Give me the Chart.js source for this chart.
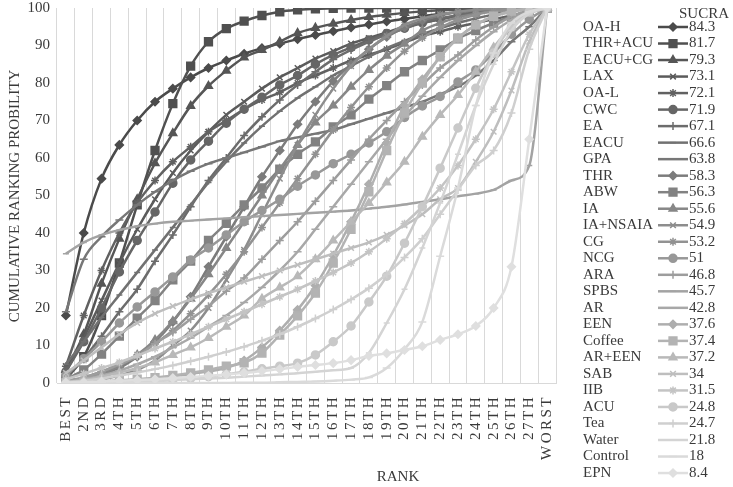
<!DOCTYPE html>
<html>
<head>
<meta charset="utf-8">
<script src="https://cdn.jsdelivr.net/npm/chart.js@4.4.0/dist/chart.umd.min.js"></script>
<style>
  html, body { margin: 0; padding: 0; background: #fff; }
</style>
</head>
<body>
<canvas id="myChart" width="733" height="487"></canvas>
<script>
//Data
const ranks = ["BEST", "2ND", "3RD", "4TH", "5TH", "6TH", "7TH", "8TH", "9TH", "10TH",
  "11TH", "12TH", "13TH", "14TH", "15TH", "16TH", "17TH", "18TH", "19TH", "20TH",
  "21TH", "22TH", "23TH", "24TH", "25TH", "26TH", "27TH", "WORST"];
const treatments = ["OA-H", "THR+ACU", "EACU+CG", "LAX", "OA-L", "CWC", "EA", "EACU", "GPA",
  "THR", "ABW", "IA", "IA+NSAIA", "CG", "NCG", "ARA", "SPBS", "AR", "EEN", "Coffee",
  "AR+EEN", "SAB", "IIB", "ACU", "Tea", "Water", "Control", "EPN"];
const sucra = ["84.3", "81.7", "79.3", "73.1", "72.1", "71.9", "67.1", "66.6", "63.8",
  "58.3", "56.3", "55.6", "54.9", "53.2", "51", "46.8", "45.7", "42.8", "37.6", "37.4",
  "37.2", "34", "31.5", "24.8", "24.7", "21.8", "18", "8.4"];
const yTicks = [0, 10, 20, 30, 40, 50, 60, 70, 80, 90, 100];

const oaH = [18, 40, 54.5, 63.5, 70, 75, 78.5, 81.5, 84, 86, 87.8, 89.3, 90.5, 91.7, 92.8, 93.8, 94.8, 95.6, 96.4, 97.1, 97.8, 98.4, 98.9, 99.3, 99.6, 99.8, 99.9, 100];
const thrAcu = [1, 7, 18, 32, 47.5, 62, 74.5, 84.5, 91, 94.5, 96.5, 98, 99, 99.5, 99.8, 99.9, 100, 100, 100, 100, 100, 100, 100, 100, 100, 100, 100, 100];
const eacuCg = [3.5, 13, 26.5, 38.5, 49, 58.6, 66.6, 73.9, 79.2, 83.3, 86.8, 88.8, 91, 93.3, 94.7, 95.8, 96.8, 97.6, 98.2, 98.7, 99.1, 99.4, 99.6, 99.8, 99.9, 100, 100, 100];
const lax = [3, 12, 22, 32, 41, 49, 56, 62, 67, 71.5, 75, 78.5, 81.5, 84, 86.5, 88.5, 90.5, 92, 93.5, 95, 96, 97, 98, 98.8, 99.4, 99.8, 100, 100];
const oaL = [4.5, 18, 30, 40, 48, 54, 59, 63, 67, 70, 73, 75.5, 77.5, 80, 82, 84, 86, 87.5, 89, 90.8, 92.5, 93.7, 95, 96, 97, 98, 99, 100];
const cwc = [3, 11, 20, 29.6, 38, 45.6, 53.3, 59.5, 64.5, 69.3, 73, 76.2, 79.5, 82, 85, 87.5, 89.5, 91.5, 93.2, 94.6, 96, 97, 98, 98.7, 99.3, 99.7, 99.9, 100];
const ea = [1.5, 6.5, 12.5, 19, 25, 32.5, 39.5, 47, 54, 60, 66, 71, 75.5, 79.5, 83, 86.3, 88.8, 91, 92.9, 94.5, 96.3, 97.3, 98.1, 98.8, 99.3, 99.7, 99.9, 100];
const eacu = [5, 11, 17.5, 23.5, 29.5, 35.5, 41.5, 47.5, 53.5, 59, 64, 68.5, 72.5, 76, 79, 82, 84.5, 87, 89.3, 91.2, 93, 94.6, 96, 97.2, 98.3, 99.2, 99.8, 100];
const gpa = [19, 33, 39, 43.5, 47.5, 51, 54, 56.5, 58.5, 60, 61.5, 63, 64.5, 65.5, 66.5, 67.5, 69, 70.5, 72, 73.5, 75, 77, 79, 82, 86, 91, 95, 100];
const thr = [0.3, 1, 2.2, 4, 7, 11, 16.3, 23, 31, 39, 47, 55, 62, 69, 75, 80.5, 85, 89, 92.3, 94.8, 96.7, 98, 98.9, 99.4, 99.7, 99.9, 100, 100];
const abw = [1, 3.5, 7.7, 12.5, 17.3, 22, 27.5, 32.5, 38, 42.6, 47.5, 52, 57, 61, 64.3, 68.3, 71.5, 75.7, 79.3, 83, 86, 88.8, 91.8, 94, 96, 97.8, 99.2, 100];
const ia = [0.5, 1.2, 2.5, 4.5, 7.5, 11.5, 16.5, 22.5, 29, 36, 43, 50, 57, 63.5, 69.5, 74, 79, 83.5, 87.3, 90.5, 94, 96, 97.5, 98.5, 99.2, 99.6, 99.9, 100];
const iaNsaia = [0.2, 0.5, 1, 2, 3.5, 6, 10, 14, 20, 27.5, 35.5, 45, 54.5, 63.5, 71.5, 78.5, 84.5, 89, 92.5, 95.5, 97.2, 98.3, 99, 99.5, 99.8, 99.9, 100, 100];
const cg = [0.5, 1.5, 3, 5, 7.5, 10.5, 14, 18.5, 23.5, 29, 35, 41.5, 48, 54.5, 61, 67.5, 73.5, 79, 84, 88.5, 92, 94.8, 96.8, 98.2, 99.1, 99.6, 99.9, 100];
const ncg = [2, 6.5, 11, 16, 20.3, 24.3, 28.3, 32.8, 36, 39.5, 43, 46, 49, 52.5, 55.5, 58.5, 61, 64, 67, 70.8, 73.9, 76.4, 80.3, 83.5, 88, 93, 97, 100];
const ara = [0.5, 1.5, 3, 5, 7, 10.5, 13.5, 17, 20.5, 24.5, 28, 33, 38, 43, 48.5, 54, 59.5, 65, 70, 75, 79.5, 84, 87.5, 91.5, 95, 97.7, 99.4, 100];
const spbs = [34.5, 37.5, 39.5, 40.8, 41.8, 42.5, 43, 43.3, 43.6, 43.9, 44.2, 44.5, 44.8, 45.1, 45.4, 45.7, 46, 46.5, 47, 47.6, 48.3, 49, 49.8, 50.5, 51.5, 54, 58, 100];
const ar = [0.3, 1, 2, 3.3, 5, 7, 9.5, 12, 15, 18, 21.5, 25.5, 30, 35, 41, 47, 53, 59, 65, 71, 76.5, 81.5, 86, 90, 93.7, 96.8, 99, 100];
const een = [0.1, 0.2, 0.4, 0.6, 0.9, 1.3, 1.8, 2.4, 3.1, 4, 6, 9.5, 14, 19.5, 26, 34, 43, 53, 64, 74, 81, 87, 92, 95.5, 97.7, 99, 99.7, 100];
const coffee = [0.1, 0.2, 0.4, 0.7, 1, 1.4, 2, 2.7, 3.5, 4.5, 5.4, 8, 12.8, 17.9, 24, 32, 41, 51, 62, 72, 80, 87, 92, 95.5, 97.8, 99.2, 99.8, 100];
const arEen = [0.2, 0.8, 1.7, 2.8, 4, 5.5, 7.5, 9.5, 12, 15, 18, 22.5, 25.5, 28.5, 33, 38, 43, 48, 53.5, 59, 65.7, 71.5, 76.8, 83, 89.5, 95, 98.5, 100];
const sab = [2.7, 6, 9.5, 13, 16, 18.5, 20.5, 22.3, 24, 25.5, 27, 28.5, 30, 31.5, 33, 34.5, 36, 37.5, 39.5, 42, 45, 49, 52, 59, 67, 78, 91, 100];
const iib = [1, 2.5, 4, 5.5, 7.3, 9.2, 11, 13, 15, 17, 19, 21, 23, 25, 27.2, 29.5, 32, 35, 38.5, 42.5, 47, 52, 58, 65, 73, 83, 93, 100];
const acu = [0, 0, 0.1, 0.2, 0.3, 0.5, 0.8, 1.2, 1.7, 2.3, 3, 3.8, 4.5, 5.3, 7.5, 11, 15.2, 21.6, 28.5, 37.3, 47, 57.3, 68, 78.6, 88, 95, 99, 100];
const tea = [0.2, 0.6, 1.2, 2, 2.8, 3.7, 4.7, 5.8, 7, 8.3, 9.7, 11.3, 13, 15, 17.2, 19.6, 22.3, 25.3, 29, 33.5, 38.5, 45, 51.5, 58, 62, 72, 89, 100];
const water = [0.1, 0.2, 0.3, 0.4, 0.5, 0.6, 0.8, 1, 1.2, 1.4, 1.7, 2, 2.3, 2.6, 3, 3.4, 4, 8, 16, 25, 36, 48, 61, 74, 85, 94, 98.5, 100];
const control = [0, 0, 0, 0, 0, 0, 0, 0, 0, 0, 0.1, 0.1, 0.2, 0.3, 0.4, 0.6, 0.9, 1.5, 4, 9, 16.3, 33.8, 52, 74, 88, 96, 99, 100];
const epn = [0.1, 0.2, 0.4, 0.6, 0.8, 1, 1.3, 1.6, 1.9, 2.3, 2.7, 3.2, 3.7, 4.3, 4.8, 5.3, 6.1, 7.2, 7.9, 8.8, 9.8, 11.5, 13, 15.2, 20, 31, 65, 100];

const seriesValues = [oaH, thrAcu, eacuCg, lax, oaL, cwc, ea, eacu, gpa, thr, abw, ia, iaNsaia,
  cg, ncg, ara, spbs, ar, een, coffee, arEen, sab, iib, acu, tea, water, control, epn];

//Styles
const grays = ["#4b4b4b", "#505050", "#565656", "#5b5b5b", "#616161", "#666666", "#6c6c6c",
  "#717171", "#777777", "#7c7c7c", "#828282", "#878787", "#8d8d8d", "#929292", "#989898",
  "#9d9d9d", "#a3a3a3", "#a8a8a8", "#aeaeae", "#b3b3b3", "#b9b9b9", "#bebebe", "#c4c4c4",
  "#c9c9c9", "#cfcfcf", "#d4d4d4", "#dadada", "#dfdfdf"];
const markers = ["rectRot", "rect", "triangle", "crossRot", "star", "circle", "cross", "line", "line"];
const markerSizes = [4, 5.5, 4.5, 4, 4, 4, 4, 3, 4];
const textColor = "#3a3a3a";
const serif = "'Liberation Serif', 'Times New Roman', serif";

var ctx = document.querySelector("#myChart").getContext("2d");

let datasets = seriesValues.map(function (values, i) {
  return {
    label: treatments[i],
    data: values,
    borderColor: grays[i],
    backgroundColor: grays[i],
    borderWidth: 2.5,
    pointStyle: markers[i % 9],
    pointRadius: markerSizes[i % 9],
    pointBorderWidth: 1.5,
    pointHoverRadius: markerSizes[i % 9],
    cubicInterpolationMode: "monotone",
    order: seriesValues.length - 1 - i,
  };
});

// legend on the right, with the SUCRA values
const sideLegend = {
  id: "sideLegend",
  afterDraw(chart) {
    const c = chart.ctx;
    c.save();
    c.font = "15px " + serif;
    c.fillStyle = textColor;
    c.textBaseline = "middle";
    c.textAlign = "center";
    c.fillText("SUCRA", 704, 14);
    chart.data.datasets.forEach(function (ds, i) {
      const y = 27 + i * 16.52;
      c.fillStyle = textColor;
      c.textAlign = "left";
      c.fillText(ds.label, 583, y);
      c.fillText(sucra[i], 689, y);
      c.strokeStyle = ds.borderColor;
      c.fillStyle = ds.borderColor;
      c.lineWidth = 2.5;
      c.beginPath();
      c.moveTo(658, y);
      c.lineTo(688, y);
      c.stroke();
      c.lineWidth = 1.5;
      Chart.helpers.drawPoint(c, { pointStyle: ds.pointStyle, radius: ds.pointRadius, borderWidth: 1.5, rotation: 0 }, 673, y);
    });
    c.restore();
  },
};

// axis labels and titles
const axisText = {
  id: "axisText",
  afterDraw(chart) {
    const c = chart.ctx;
    const xs = chart.scales.x;
    const ys = chart.scales.y;
    c.save();
    c.fillStyle = textColor;
    c.font = "15px " + serif;
    // y ticks
    c.textAlign = "right";
    c.textBaseline = "middle";
    yTicks.forEach(function (v) {
      c.fillText(String(v), 50, ys.getPixelForValue(v));
    });
    // rank labels, vertical
    ranks.forEach(function (r, i) {
      const x = xs.getPixelForValue(i);
      c.save();
      c.translate(x, 395);
      c.rotate(-Math.PI / 2);
      c.textAlign = "right";
      c.textBaseline = "middle";
      c.letterSpacing = "2.5px";
      c.fillText(r, 0, 0);
      c.restore();
    });
    c.textAlign = "center";
    c.textBaseline = "middle";
    c.fillText("RANK", 398, 477);
    c.translate(15, 196);
    c.rotate(-Math.PI / 2);
    c.fillText("CUMULATIVE RANKING PROBILITY", 0, 0);
    c.restore();
  },
};

var myChart = new Chart(ctx, {
  type: "line",
  data: {
    labels: ranks,
    datasets: datasets,
  },
  options: {
    responsive: false,
    animation: false,
    layout: {
      autoPadding: false,
      padding: { left: 0, top: 8, right: 177, bottom: 0 },
    },
    plugins: {
      legend: { display: false },
      tooltip: { enabled: false },
    },
    scales: {
      x: {
        type: "category",
        offset: true,
        grid: { offset: true, color: "#d9d9d9", lineWidth: 1, drawTicks: false },
        border: { color: "#d9d9d9" },
        ticks: { display: false },
        afterFit: function (scale) {
          scale.height = 104;
        },
      },
      y: {
        min: 0,
        max: 100,
        grid: { display: false, drawTicks: false },
        border: { display: false },
        ticks: { display: false, stepSize: 10 },
        afterFit: function (scale) {
          scale.width = 57;
        },
      },
    },
  },
  plugins: [sideLegend, axisText],
});
</script>
</body>
</html>
